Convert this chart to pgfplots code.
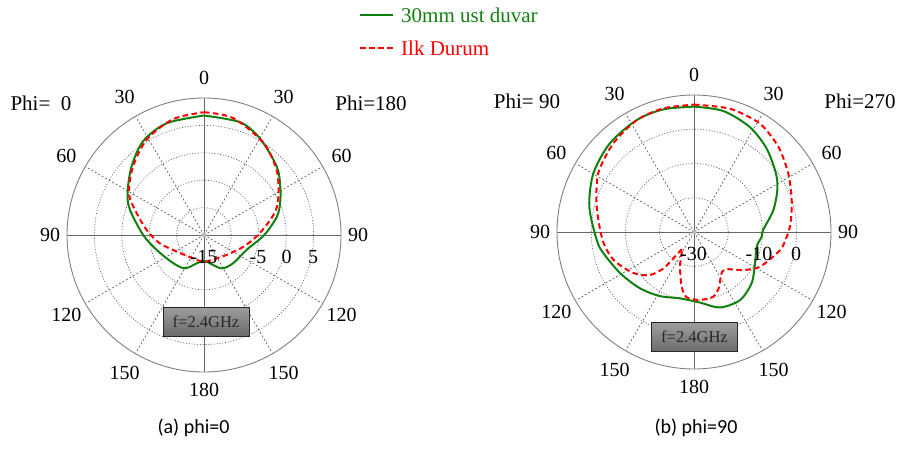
\documentclass[border=0pt]{standalone}
\usepackage{fontspec}
\setmainfont{Liberation Serif}
\newfontfamily\capfont{Carlito}
\usepackage{pgfplots}
\usepackage{pgfplotstable}
\pgfplotsset{compat=1.18}
\definecolor{ggreen}{RGB}{16,128,16}
\definecolor{gridc}{RGB}{100,100,100}

% angle a (deg, clockwise from top), gain d (dB)
\pgfplotstableread{
a d
0 6.8
18 6.6
30.5 5.3
47 3.2
57.5 1.5
67 0.1
76 -1.3
90 -4.0
109 -6.75
134 -7.6
152 -8.1
168 -9.7
180 -10.3
194.5 -9.65
209.7 -8.0
227.3 -7.4
252.4 -5.95
270 -3.9
288.7 -0.75
298.6 0.9
313.4 3.2
327 5.4
341.5 6.5
360 6.8
}\leftgreen
\pgfplotstableread{
a d
0 7.4
14 7.0
33 5.0
48 2.8
60.7 0.6
71.8 -1.3
88 -4.8
106.6 -7.5
131.4 -9.5
159 -10.25
180 -10.1
204.7 -10.3
238.5 -9.2
259.3 -6.8
275 -4.5
290 -1.6
299.2 0.7
314 3.0
329 5.3
345.2 6.9
360 7.4
}\leftred
\pgfplotstableread{
a d
0 6.6
13.6 6.35
28 4.7
41 2.3
54.5 -0.6
63.4 -2.8
74.7 -6.0
88.3 -9.8
94 -10.2
103 -11.2
117 -10.0
131.6 -7.5
146 -6.0
161 -6.7
175 -9.3
192 -10.2
208 -8.8
224 -7.2
241 -5.3
257 -2.8
265.3 -1.5
283.6 1.45
300.2 4.0
316.6 5.7
332.9 6.7
346 6.9
360 6.6
}\rightgreen
\pgfplotstableread{
a d
0 7.2
16.3 7.5
31.3 7.05
44.8 5.0
58.2 2.4
72 0.0
85 -1.7
93 -2.9
101.8 -4.3
117.7 -8.2
127.6 -11.8
140 -15.8
148 -15.2
155.2 -12.4
163.4 -10.3
175 -10.1
186.4 -10.8
192.7 -13.6
202 -19.1
210 -22.8
214.7 -24.0
218.5 -19.5
220 -16.1
225.7 -12.0
236 -8.6
251 -5.1
265 -3.2
284.6 -0.65
301.5 2.8
317.7 5.0
333 6.7
346 7.2
360 7.2
}\rightred

\tikzset{
  ringline/.style={gridc, line width=0.7pt, dash pattern=on 1pt off 1.8pt},
  spokeline/.style={gridc, line width=0.7pt, dash pattern=on 2pt off 2pt},
  axline/.style={black!60, line width=1pt},
  outerline/.style={black!50, line width=0.9pt},
  greencurve/.style={ggreen, line width=2pt},
  redcurve/.style={red, line width=2pt, dash pattern=on 5.5pt off 3.5pt},
}

\newcommand{\polargrid}[4]{% cx, cy, ring step, number of rings inside
  \foreach \k in {1,...,#4} {\draw[ringline] (#1pt,#2pt) circle[radius=\k*#3 pt];}
  \foreach \t in {30,60,120,150,210,240,300,330} {\draw[spokeline] (#1pt,#2pt) -- ++(\t:137pt);}
  \draw[axline] ([shift={(-137pt,0pt)}]#1pt,#2pt) -- ([shift={(137pt,0pt)}]#1pt,#2pt);
  \draw[axline] ([shift={(0pt,-137pt)}]#1pt,#2pt) -- ([shift={(0pt,137pt)}]#1pt,#2pt);
  \draw[outerline] (#1pt,#2pt) circle[radius=137pt];
  \fill[gray!55] (#1pt,#2pt) circle[radius=2.6pt];
  \node at ([shift={(0pt,157pt)}]#1pt,#2pt) {0};
  \node at ([shift={(0pt,-155pt)}]#1pt,#2pt) {180};
  \node at ([shift={(154pt,0pt)}]#1pt,#2pt) {90};
  \node at ([shift={(-154pt,0pt)}]#1pt,#2pt) {90};
  \foreach \t in {30,60,120,150} {
    \node at ([shift={(90-\t:159pt)}]#1pt,#2pt) {\t};
    \node at ([shift={(90+\t:159pt)}]#1pt,#2pt) {\t};
  }
}

\begin{document}
\begin{tikzpicture}[font=\fontsize{20}{24}\selectfont]
\useasboundingbox (0pt,0pt) rectangle (900pt,448pt);

% grids
\polargrid{204}{213}{27.4}{4}
\polargrid{694}{216}{34.25}{3}

\begin{axis}[at={(0pt,0pt)}, anchor=south west, x=1pt, y=1pt,
  xmin=0, xmax=900, ymin=0, ymax=448, hide axis, clip=false]
  \addplot[greencurve, smooth, tension=0.5] table[
    x expr={204+(\thisrow{d}+15)*5.48*sin(\thisrow{a})},
    y expr={213+(\thisrow{d}+15)*5.48*cos(\thisrow{a})}] {\leftgreen};
  \addplot[redcurve, smooth, tension=0.5] table[
    x expr={204+(\thisrow{d}+15)*5.48*sin(\thisrow{a})},
    y expr={213+(\thisrow{d}+15)*5.48*cos(\thisrow{a})}] {\leftred};
  \addplot[greencurve, smooth, tension=0.5] table[
    x expr={694+(\thisrow{d}+30)*3.425*sin(\thisrow{a})},
    y expr={216+(\thisrow{d}+30)*3.425*cos(\thisrow{a})}] {\rightgreen};
  \addplot[redcurve, smooth, tension=0.45] table[
    x expr={694+(\thisrow{d}+30)*3.425*sin(\thisrow{a})},
    y expr={216+(\thisrow{d}+30)*3.425*cos(\thisrow{a})}] {\rightred};
\end{axis}

% radial labels
\node at (204pt,191pt) {-15};
\node at (258pt,191pt) {-5};
\node at (286.5pt,191pt) {0};
\node at (313pt,191pt) {5};
\node at (693.5pt,194.5pt) {-30};
\node at (759pt,194.5pt) {-10};
\node at (796pt,194.5pt) {0};

% Phi labels
\node[font=\fontsize{21}{24}\selectfont] at (41pt,345pt) {Phi=\ \ 0};
\node[font=\fontsize{21}{24}\selectfont] at (371pt,345pt) {Phi=180};
\node[font=\fontsize{21}{24}\selectfont] at (527pt,347pt) {Phi= 90};
\node[font=\fontsize{21}{24}\selectfont] at (860pt,347pt) {Phi=270};

% frequency boxes
\node[draw=black!85, line width=0.6pt, top color=black!38, bottom color=black!58,
  minimum width=86pt, minimum height=29pt, inner sep=0pt,
  font=\fontsize{16.5}{18}\selectfont, text=black!85] at (206pt,126.5pt) {f=2.4GHz};
\node[draw=black!85, line width=0.6pt, top color=black!38, bottom color=black!58,
  minimum width=86pt, minimum height=29pt, inner sep=0pt,
  font=\fontsize{16.5}{18}\selectfont, text=black!85] at (694.5pt,111pt) {f=2.4GHz};

% legend
\draw[greencurve] (360pt,433pt) -- (393pt,433pt);
\node[anchor=west, text=ggreen, inner sep=0pt, font=\fontsize{21}{24}\selectfont] at (401pt,433pt) {30mm ust duvar};
\draw[redcurve] (360pt,400pt) -- (393pt,400pt);
\node[anchor=west, text=red, inner sep=0pt, font=\fontsize{21}{24}\selectfont] at (401pt,400pt) {Ilk Durum};

% captions
\node[font=\capfont\fontsize{20}{24}\selectfont] at (193.5pt,20pt) {(a) phi=0};
\node[font=\capfont\fontsize{20}{24}\selectfont] at (696pt,20pt) {(b) phi=90};
\end{tikzpicture}
\end{document}
